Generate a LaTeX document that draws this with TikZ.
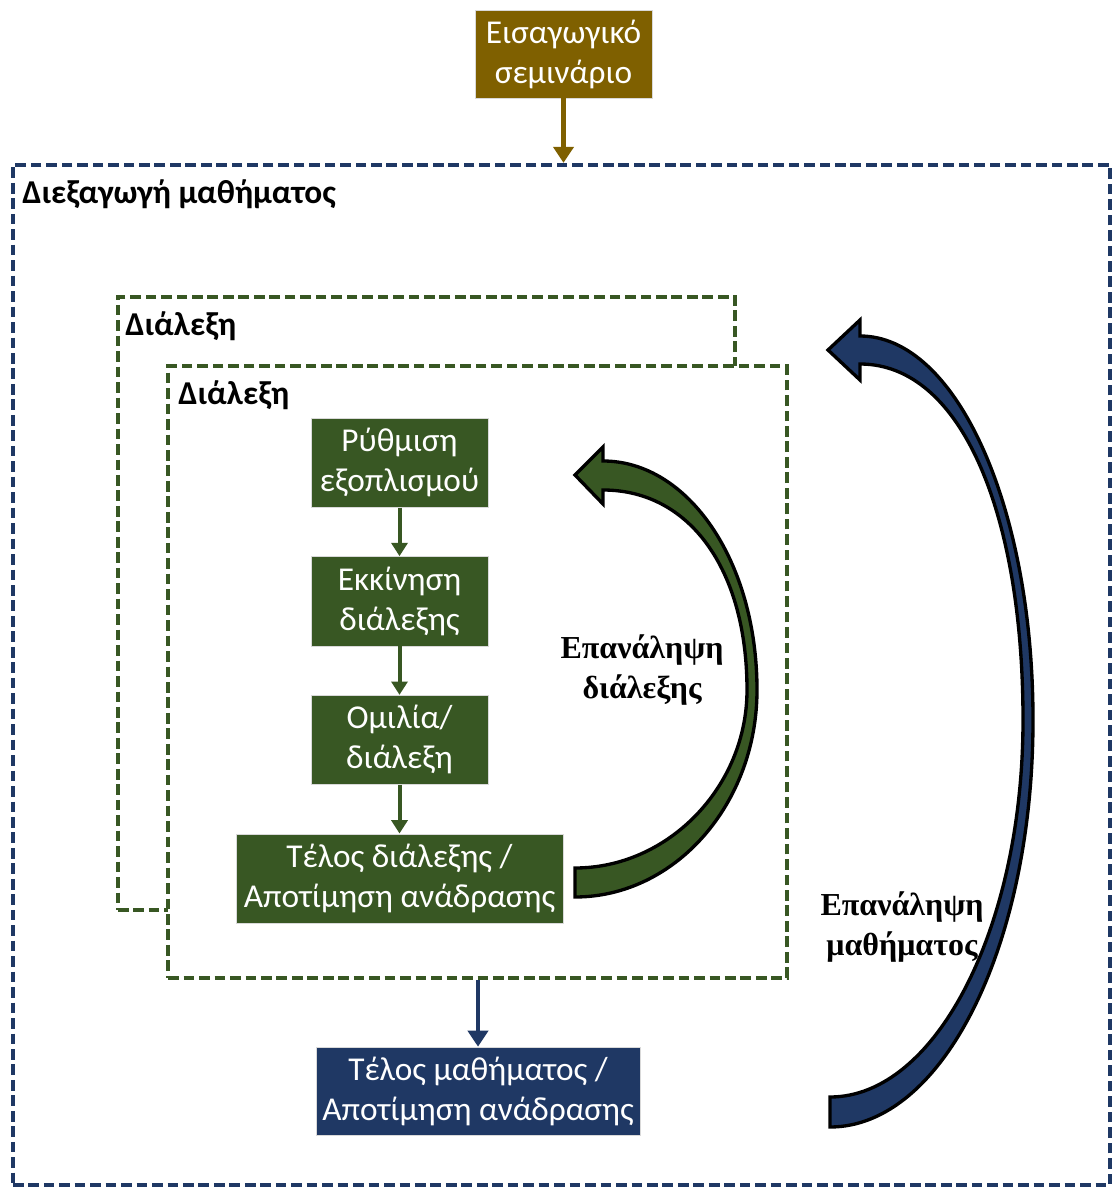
\documentclass[tikz,border=0pt]{standalone}
\usepackage{fontspec}
\setmainfont{Carlito}
\newfontfamily\repeatfont{Liberation Serif}
\usetikzlibrary{positioning,arrows.meta}
\definecolor{seminarbrown}{HTML}{7F6000}
\definecolor{lecturegreen}{HTML}{385723}
\definecolor{coursenavy}{HTML}{1F3864}

\begin{document}
\begin{tikzpicture}[x=0.75pt,y=-0.75pt,node distance=104pt]
  \tikzstyle{every node}=[font=\fontsize{25}{30}\selectfont]
  \tikzstyle{stepbox}=[rectangle, text=white, align=center, inner sep=0pt,
                minimum height=67pt, draw=black!15, line width=0.5pt]
  \tikzstyle{frame}=[rectangle, line width=3.2pt, dash pattern=on 8pt off 3.6pt, inner sep=0pt]
  \tikzstyle{framelabel}=[anchor=base west, inner sep=0pt, font=\fontsize{25}{30}\selectfont\bfseries]
  \tikzstyle{repeatlabel}=[align=center, inner sep=0pt, font=\repeatfont\fontsize{24}{30}\selectfont\bfseries]
  \tikzstyle{bigarrow}=[draw=black, line width=2.5pt, line join=miter]

  \useasboundingbox (0,0) rectangle (1112,1187);

  % Frames
  \node (course) [frame, draw=coursenavy, minimum width=823pt, minimum height=765pt] at (561.5,675) {};
  \node (lecture1) [frame, draw=lecturegreen, minimum width=463pt, minimum height=460pt] at (426.5,603.5) {};
  \node (lecture2) [frame, draw=lecturegreen, fill=white, minimum width=464pt, minimum height=459pt] at (477.5,672) {};

  \node (courselbl) [framelabel] at (22,204) {Διεξαγωγή μαθήματος};
  \node (lecture1lbl) [framelabel] at (125,335) {Διάλεξη};
  \node (lecture2lbl) [framelabel] at (178,404) {Διάλεξη};

  % Main boxes
  \node (seminar) [stepbox, fill=seminarbrown, minimum width=133pt, minimum height=66pt] at (563.5,54)
                {Εισαγωγικό\\σεμινάριο};
  \node (setup) [stepbox, fill=lecturegreen, minimum width=133pt] at (399.5,462.5)
                {Ρύθμιση\\εξοπλισμού};
  \node (start) [stepbox, fill=lecturegreen, minimum width=133pt, below of=setup]
                {Εκκίνηση\\διάλεξης};
  \node (talk) [stepbox, fill=lecturegreen, minimum width=133pt, below of=start]
                {Ομιλία/\\διάλεξη};
  \node (lectureend) [stepbox, fill=lecturegreen, minimum width=245pt, below of=talk]
                {Τέλος διάλεξης /\\Αποτίμηση ανάδρασης};
  \node (courseend) [stepbox, fill=coursenavy, minimum width=243pt, minimum height=66pt] at (478,1091)
                {Τέλος μαθήματος /\\Αποτίμηση ανάδρασης};

  % Arrows
  \draw[seminarbrown, line width=3.5pt, -{Triangle[length=12pt,width=15pt]}]
        (seminar.south) -- (seminar.south |- course.north);
  \draw[lecturegreen, line width=3pt, -{Triangle[length=10pt,width=12pt]}] (setup) -- (start);
  \draw[lecturegreen, line width=3pt, -{Triangle[length=10pt,width=12pt]}] (start) -- (talk);
  \draw[lecturegreen, line width=3pt, -{Triangle[length=10pt,width=12pt]}] (talk) -- (lectureend);
  \draw[coursenavy, line width=3.5pt, -{Triangle[length=12pt,width=15pt]}]
        (lecture2.south -| courseend.north) -- (courseend.north);

  % Curved arrows
  \path[bigarrow, fill=lecturegreen] (575,475) -- (603,447) -- (603,461)
        .. controls (688,461) and (757,561) .. (757,690)
        .. controls (757,804) and (675,897) .. (575,897) -- (575,868)
        .. controls (668,868) and (747,787) .. (747,690)
        .. controls (747,570) and (690,490) .. (603,490) -- (603,504) -- cycle;
  \path[bigarrow, fill=coursenavy] (828,350) -- (860,320) -- (860,336)
        .. controls (956,336) and (1033,506) .. (1033,720)
        .. controls (1033,945) and (943,1127) .. (830,1127) -- (830,1097)
        .. controls (936,1097) and (1023,927) .. (1023,720)
        .. controls (1023,515) and (962,364) .. (860,364) -- (860,380) -- cycle;

  \node (lecturerep) [repeatlabel] at (642,670) {Επανάληψη\\διάλεξης};
  \node (courserep) [repeatlabel] at (902,927) {Επανάληψη\\μαθήματος};
\end{tikzpicture}
\end{document}
